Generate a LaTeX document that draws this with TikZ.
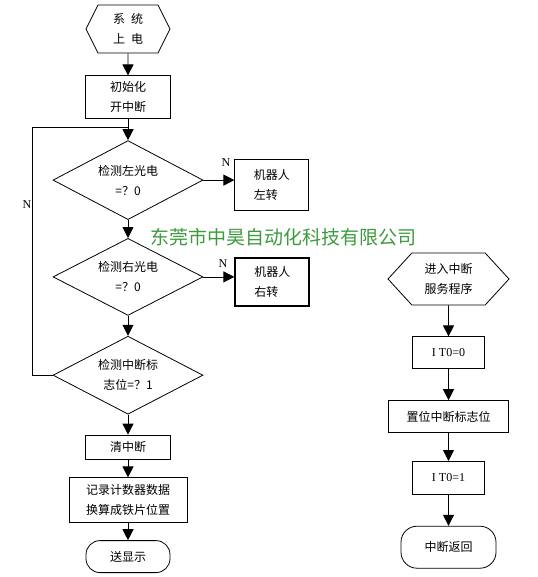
\documentclass[tikz,border=0pt]{standalone}
\usepackage{fontspec}
\setmainfont{Noto Sans CJK SC}
\newfontfamily\latinrm{Liberation Serif}
\usetikzlibrary{positioning,shapes.geometric,shapes.symbols,arrows.meta}
\definecolor{markgreen}{RGB}{60,155,60}
\tikzset{
  >={Triangle[length=11pt,width=11pt]},
  every node/.style={font=\fontsize{12}{20}\selectfont},
  proc/.style={draw, rectangle, align=center, inner sep=0pt},
  decide/.style={draw, diamond, aspect=2, align=center, inner sep=0pt, minimum width=150pt},
  hexa/.style={draw, signal, signal to=east and west, align=center, inner sep=0pt},
  term/.style={draw, rectangle, rounded corners=14pt, align=center, inner sep=0pt},
  nlabel/.style={font=\latinrm\fontsize{12}{12}\selectfont, inner sep=0pt},
}

\begin{document}
\begin{tikzpicture}[x=1pt, y=-1pt, line width=0.8pt]
    \useasboundingbox (0,0) rectangle (537,577);
    % main program
    \node[hexa, minimum width=84pt, minimum height=48pt, signal pointer angle=127] (start) at (128,29) {系\hspace{0.5em}统\\上\hspace{0.5em}电};
    \node[proc, minimum width=85pt, minimum height=43pt] (init) [below=22pt of start] {初始化\\开中断};
    \node[decide, minimum height=79pt] (dl) [below=21pt of init] {检测左光电\\=？0};
    \node[decide, minimum height=77pt] (dr) [below=18pt of dl] {检测右光电\\=？0};
    \node[decide, minimum height=78pt] (dc) [below=20pt of dr] {检测中断标\\志位=？1};
    \node[proc, minimum width=85pt, minimum height=24pt] (clr) [below=20pt of dc] {清中断};
    \node[proc, minimum width=118pt, minimum height=45pt] (rec) [below=18pt of clr] {记录计数器数据\\换算成铁片位置};
    \node[term, minimum width=84pt, minimum height=32pt] (show) [below=17pt of rec] {送显示};
    \node[proc, minimum width=74pt, minimum height=51pt, align=left] (lturn) [right=31pt of dl, yshift=-5pt] {机器人\\左转};
    \node[proc, minimum width=74pt, minimum height=48pt, align=left, line width=1.8pt] (rturn) [right=31pt of dr, yshift=-5pt] {机器人\\右转};
    \node[nlabel] (nl) at (226,163) {N};
    \node[nlabel] (nr) at (223,264) {N};
    \node[nlabel] (nloop) at (27,205) {N};
    \coordinate (lp) at (32,127);
    \draw[->] (start) -- (init);
    \draw[->] (init) -- (dl);
    \draw[->] (dl) -- (dr);
    \draw[->] (dr) -- (dc);
    \draw[->] (dc) -- (clr);
    \draw[->] (clr) -- (rec);
    \draw[->] (rec) -- (show);
    \draw[->] (dl.east) -- (dl.east -| lturn.west);
    \draw[->] (dr.east) -- (dr.east -| rturn.west);
    \draw (dc.west) -| (lp) -- (lp -| init.south);
    % interrupt routine
    \node[hexa, minimum width=121pt, minimum height=52pt, signal pointer angle=95] (isr) at (448.5,279) {进入中断\\服务程序};
    \node[proc, minimum width=72pt, minimum height=32pt] (it0) [below=31pt of isr] {\latinrm I T0=0};
    \node[proc, minimum width=120pt, minimum height=32pt] (setf) [below=31pt of it0] {置位中断标志位};
    \node[proc, minimum width=72pt, minimum height=33pt] (it1) [below=28pt of setf] {\latinrm I T0=1};
    \node[term, minimum width=95pt, minimum height=42pt, rounded corners=16pt] (ret) [below=31pt of it1] {中断返回};
    \draw[->] (isr) -- (it0);
    \draw[->] (it0) -- (setf);
    \draw[->] (setf) -- (it1);
    \draw[->] (it1) -- (ret);
    % watermark
    \node[text=markgreen, font=\fontsize{19}{19}\selectfont] (mark) at (283,237) {东莞市中昊自动化科技有限公司};
\end{tikzpicture}
\end{document}
